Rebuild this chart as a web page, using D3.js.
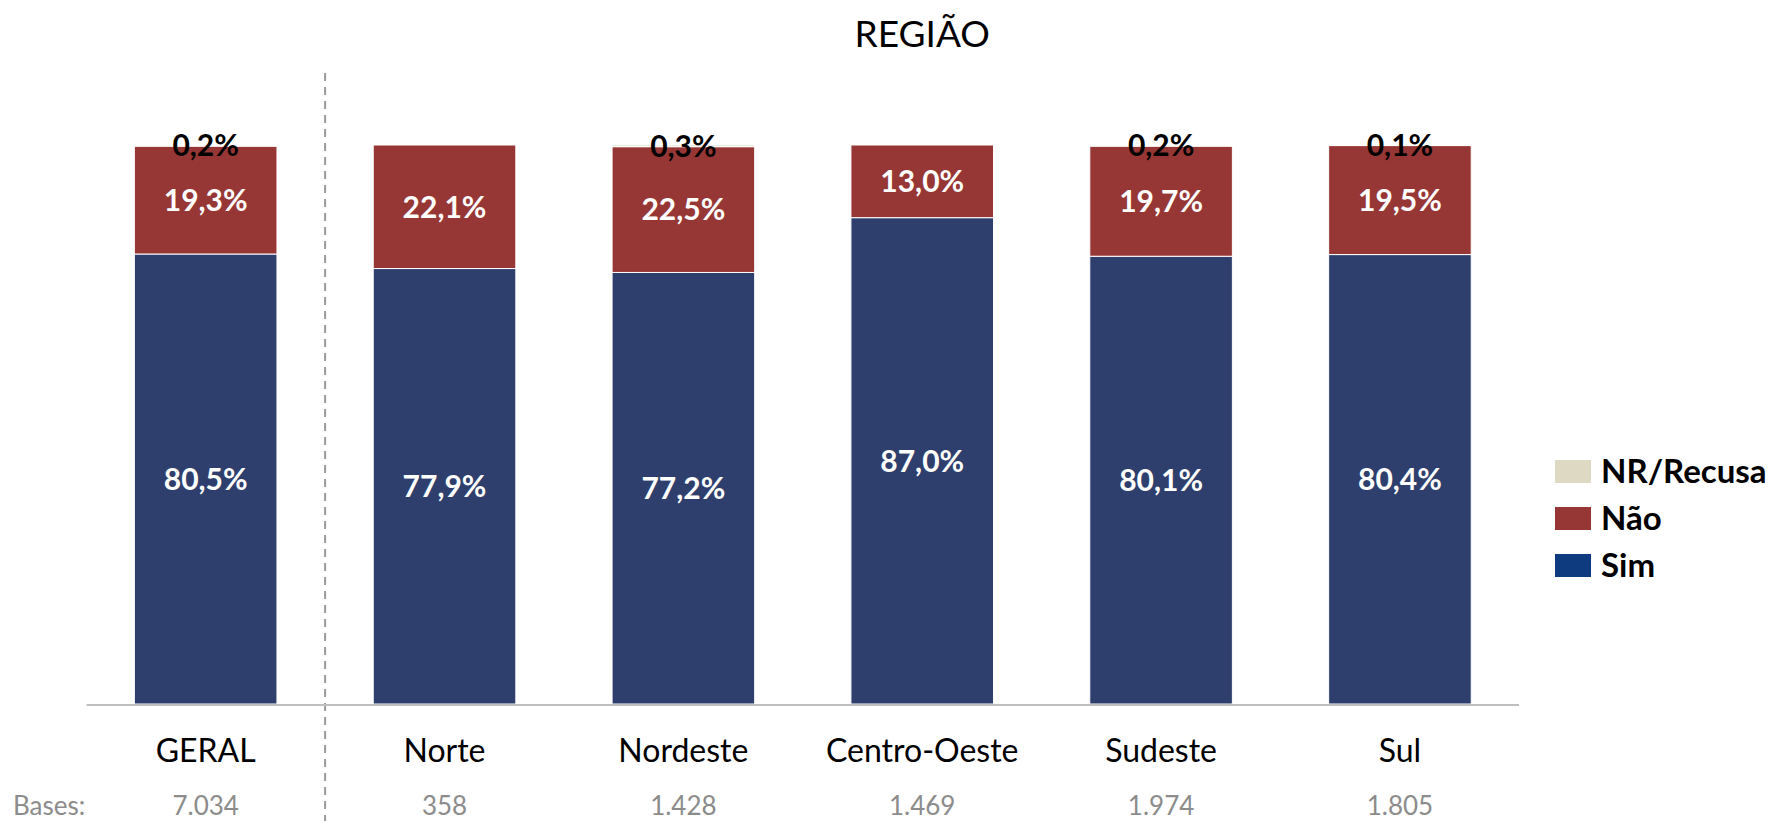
<!DOCTYPE html>
<html>
<head>
<meta charset="utf-8">
<script src="https://cdn.jsdelivr.net/npm/d3@7"></script>
<style>
  body { margin: 0; background: #fff; }
  svg { display: block; font-family: Lato, "Open Sans", sans-serif; }
</style>
</head>
<body>
<div id="chart"></div>
<script>
var categories = ['GERAL', 'Norte', 'Nordeste', 'Centro-Oeste', 'Sudeste', 'Sul'];
var bases = ['7.034', '358', '1.428', '1.469', '1.974', '1.805'];
var sim = [80.5, 77.9, 77.2, 87.0, 80.1, 80.4];
var nao = [19.3, 22.1, 22.5, 13.0, 19.7, 19.5];
var nr = [0.2, 0, 0.3, 0, 0.2, 0.1];
var seriesNames = ['Sim', 'Não', 'NR/Recusa'];

var width = 1774,
    height = 821;

var barColor = {'Sim': '#2f3f6d', 'Não': '#973735', 'NR/Recusa': '#ddd9c3'};
var legendColor = {'Sim': '#0e3a80', 'Não': '#973735', 'NR/Recusa': '#ddd9c3'};

var fmt = function(v) { return v.toFixed(1).replace('.', ',') + '%'; };

var rows = categories.map(function(c, i) {
    return {cat: c, 'Sim': sim[i], 'Não': nao[i], 'NR/Recusa': nr[i]};
});

var stack = d3.stack().keys(seriesNames);
var layers = stack(rows);

var x = d3.scaleBand()
    .domain(categories)
    .range([86.6, 1519])
    .paddingInner(0.403)
    .paddingOuter(0.2);

var y = d3.scaleLinear()
    .domain([0, 100])
    .range([704, 145]);

var svg = d3.select('#chart')
    .append('svg')
    .attr('width', width)
    .attr('height', height);

// title, centred over the regional bars
var regCenter = (x('Norte') + x('Sul') + x.bandwidth()) / 2;
svg.append('text')
    .attr('x', regCenter)
    .attr('y', 47)
    .attr('text-anchor', 'middle')
    .attr('font-size', 37)
    .attr('fill', '#000')
    .text('REGIÃO');

// separator between GERAL and regions
var sepX = (x('GERAL') + x.bandwidth() + x('Norte')) / 2;
svg.append('line')
    .attr('x1', sepX).attr('x2', sepX)
    .attr('y1', 73).attr('y2', height)
    .attr('stroke', '#999')
    .attr('stroke-width', 2)
    .attr('stroke-dasharray', '8,6');

// bars
var groups = svg.selectAll('g.layer')
    .data(layers)
    .enter()
    .append('g')
    .attr('class', 'layer')
    .attr('fill', function(d) { return barColor[d.key]; });

groups.selectAll('rect')
    .data(function(d) { return d; })
    .enter()
    .append('rect')
    .attr('x', function(d) { return x(d.data.cat); })
    .attr('y', function(d) { return y(d[1]); })
    .attr('width', x.bandwidth())
    .attr('height', function(d) { return y(d[0]) - y(d[1]); })
    .attr('stroke', '#fff')
    .attr('stroke-width', 1);

// baseline
svg.append('line')
    .attr('x1', x.range()[0]).attr('x2', x.range()[1])
    .attr('y1', 705).attr('y2', 705)
    .attr('stroke', '#bfbfbf')
    .attr('stroke-width', 2);

// value labels
layers.forEach(function(layer) {
    svg.selectAll(null)
        .data(layer.filter(function(d) { return d[1] - d[0] > 0; }))
        .enter()
        .append('text')
        .attr('x', function(d) { return x(d.data.cat) + x.bandwidth() / 2; })
        .attr('y', function(d) { return y((d[0] + d[1]) / 2); })
        .attr('dy', '0.36em')
        .attr('text-anchor', 'middle')
        .attr('font-size', 30)
        .attr('font-weight', 'bold')
        .attr('fill', layer.key === 'NR/Recusa' ? '#000' : '#fff')
        .text(function(d) { return fmt(d[1] - d[0]); });
});

// category labels
svg.selectAll('text.cat')
    .data(categories)
    .enter()
    .append('text')
    .attr('class', 'cat')
    .attr('x', function(d) { return x(d) + x.bandwidth() / 2; })
    .attr('y', 762)
    .attr('text-anchor', 'middle')
    .attr('font-size', 32)
    .attr('fill', '#000')
    .text(function(d) { return d; });

// bases
svg.append('text')
    .attr('x', 13)
    .attr('y', 815)
    .attr('font-size', 26)
    .attr('fill', '#8c8c8c')
    .text('Bases:');

svg.selectAll('text.base')
    .data(bases)
    .enter()
    .append('text')
    .attr('class', 'base')
    .attr('x', function(d, i) { return x(categories[i]) + x.bandwidth() / 2; })
    .attr('y', 815)
    .attr('text-anchor', 'middle')
    .attr('font-size', 26)
    .attr('fill', '#8c8c8c')
    .text(function(d) { return d; });

// legend
var legendItems = ['NR/Recusa', 'Não', 'Sim'];
var legend = svg.selectAll('g.legend')
    .data(legendItems)
    .enter()
    .append('g')
    .attr('class', 'legend')
    .attr('transform', function(d, i) { return 'translate(1555,' + (460 + i * 47) + ')'; });

legend.append('rect')
    .attr('width', 36)
    .attr('height', 23)
    .attr('fill', function(d) { return legendColor[d]; });

legend.append('text')
    .attr('x', 46)
    .attr('y', 11.5)
    .attr('dy', '0.36em')
    .attr('font-size', 33)
    .attr('font-weight', 'bold')
    .attr('fill', '#000')
    .text(function(d) { return d; });
</script>
</body>
</html>
